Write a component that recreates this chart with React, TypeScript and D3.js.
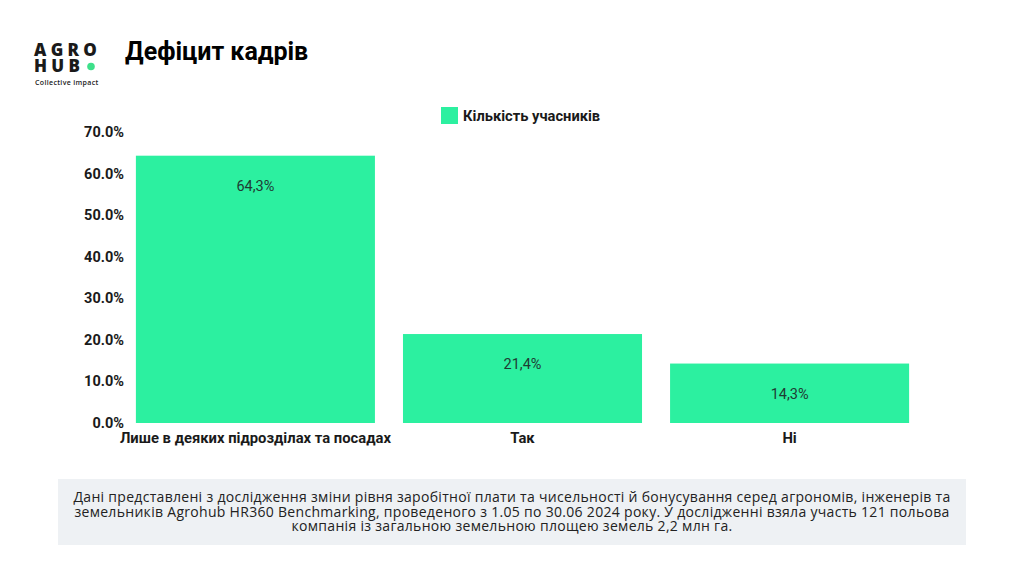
import React from "react";
import * as d3 from "d3";

const categories = ["Лише в деяких підрозділах та посадах", "Так", "Ні"];
const values = [64.3, 21.4, 14.3];
const valueLabels = ["64,3%", "21,4%", "14,3%"];
const yTicks = [0, 10, 20, 30, 40, 50, 60, 70];
const seriesName = "Кількість учасників";
const title = "Дефіцит кадрів";
const footerLines = [
  "Дані представлені з дослідження зміни рівня заробітної плати та чисельності й бонусування серед агрономів, інженерів та",
  "земельників Agrohub HR360 Benchmarking, проведеного з 1.05 по 30.06 2024 року. У дослідженні взяла участь 121 польова",
  "компанія із загальною земельною площею земель 2,2 млн га.",
];

const W = 1024;
const H = 576;
const BAR = "#2cf0a0";
const TEXT = "#1a1a1a";

export default function App() {
  const x = d3.scaleBand<string>().domain(categories).range([122, 923]).paddingInner(0.105).paddingOuter(0.052);
  const y = d3.scaleLinear().domain([0, 70]).range([423, 132]);
  return (
    <svg width={W} height={H} style={{ position: "absolute", left: 0, top: 0, background: "#fff" }} fontFamily="Roboto, sans-serif">
      <rect width={W} height={H} fill="#fff" />
      {/* logo */}
      <g fontFamily="'Open Sans', sans-serif" fill={TEXT} fontWeight={800}>
        <text fontSize={17} letterSpacing={4.3}>
          <tspan x={34} y={56}>AGRO</tspan>
          <tspan x={34} y={72}>HUB</tspan>
        </text>
        <circle cx={91} cy={66.5} r={3.8} fill="#3ee08a" />
        <text x={35} y={85} fontSize={7} fontWeight={600} letterSpacing={0.35}>Collective impact</text>
      </g>
      <text x={125} y={60} fontSize={25} fontWeight={700} fill="#000">{title}</text>
      {/* legend */}
      <rect x={441} y={107} width={17} height={17} fill={BAR} />
      <text x={463} y={121} fontSize={14.7} fontWeight={700} fill={TEXT}>{seriesName}</text>
      {/* y ticks */}
      {yTicks.map((t) => (
        <text key={t} x={124} y={y(t) + 5} textAnchor="end" fontSize={14.5} fontWeight={700} fill={TEXT}>
          {t.toFixed(1) + "%"}
        </text>
      ))}
      {/* bars */}
      {categories.map((c, i) => (
        <g key={c}>
          <rect x={x(c)} y={y(values[i])} width={x.bandwidth()} height={y(0) - y(values[i])} fill={BAR} />
          <text x={(x(c) as number) + x.bandwidth() / 2} y={y(values[i]) + 35} textAnchor="middle" fontSize={14.5} fill="#1f3b33">
            {valueLabels[i]}
          </text>
          <text x={(x(c) as number) + x.bandwidth() / 2} y={443} textAnchor="middle" fontSize={14.8} fontWeight={700} fill={TEXT}>
            {c}
          </text>
        </g>
      ))}
      {/* footer */}
      <rect x={58} y={479} width={908} height={66} fill="#eef1f4" />
      <text textAnchor="middle" fontSize={14} fill="#222" fontFamily="'Open Sans', sans-serif" letterSpacing={0.3}>
        {footerLines.map((l, i) => (
          <tspan key={i} x={512} y={502 + i * 14.5}>{l}</tspan>
        ))}
      </text>
    </svg>
  );
}
